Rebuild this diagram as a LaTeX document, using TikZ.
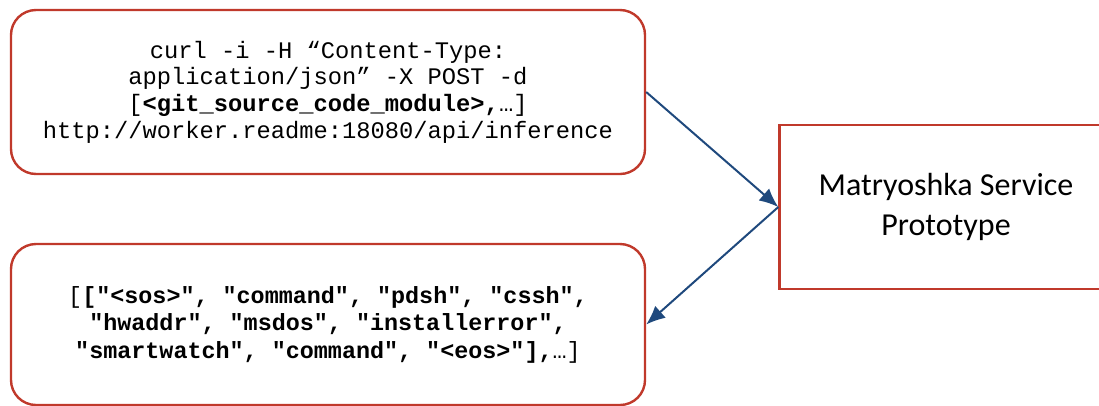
\documentclass[tikz,border=0pt]{standalone}
\usepackage{fontspec}
\usepackage{tikz}
\usetikzlibrary{arrows.meta}
\newfontfamily\codefont{Liberation Mono}
\newfontfamily\boxfont{Carlito}
\definecolor{boxred}{RGB}{192,57,43}
\definecolor{arrowblue}{RGB}{31,73,125}

\tikzset{
	roundbox/.style={draw=boxred, line width=2.4pt, rounded corners=25pt,
		minimum width=634pt, align=center, inner sep=0pt},
	servicebox/.style={draw=boxred, line width=2.4pt, minimum width=333pt,
		minimum height=164pt, align=center, inner sep=0pt},
	flow/.style={draw=arrowblue, line width=2pt, -{Latex[length=19pt,width=16pt]}}
}

\begin{document}
\begin{tikzpicture}[x=1pt, y=-1pt]
		\useasboundingbox (0, 0) rectangle (1099, 405);

		\node[roundbox, minimum height=164pt,
			font=\codefont\fontsize{23.75}{26.7}\selectfont] (request) at (328, 92)
			{curl -i -H “Content-Type:\\
			application/json” -X POST -d\\
			{[}\textbf{<git\_source\_code\_module>,}…]\\
			http://worker.readme:18080/api/inference};

		\node[roundbox, minimum height=161pt,
			font=\codefont\fontsize{23.4}{27.5}\selectfont] (reply) at (328, 324.5)
			{{[}\textbf{["<sos>", "command", "pdsh", "cssh",}\\
			\textbf{"hwaddr", "msdos", "installerror",}\\
			\textbf{"smartwatch", "command", "<eos>"],}…]};

		\node[servicebox, font=\boxfont\fontsize{32}{40}\selectfont] (service) at (946, 207)
			{Matryoshka Service\\ Prototype};

		\draw[flow] (request.east) -- (service.west);
		\draw[flow] (service.west) -- (reply.east);

	\end{tikzpicture}
\end{document}
